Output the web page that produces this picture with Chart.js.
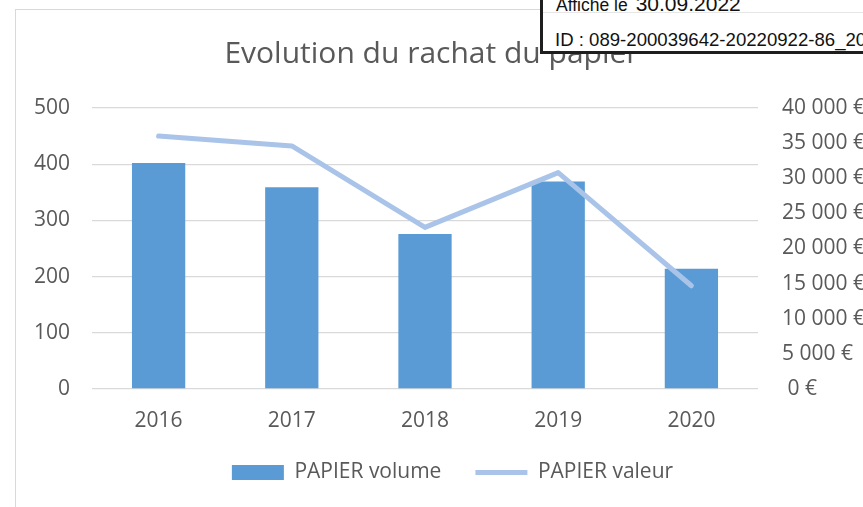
<!DOCTYPE html>
<html>
<head>
<meta charset="utf-8">
<script src="https://cdn.jsdelivr.net/npm/chart.js@4/dist/chart.umd.min.js"></script>
<style>
  html, body { margin: 0; padding: 0; background: #ffffff; overflow: hidden; }
  #wrap { position: relative; width: 863px; height: 507px; overflow: hidden; background: #fff; }
  #frame { position: absolute; left: 15px; top: 9px; width: 1000px; height: 700px; border: 1.5px solid #d9d9d9; box-sizing: border-box; }
  #c { position: absolute; left: 0; top: 0; }
  #stamp { position: absolute; left: 540px; top: -12px; width: 400px; height: 66px; box-sizing: border-box;
           border: 3px solid #1e1e1e; background: #fff; font-family: "Liberation Sans", Arial, sans-serif; color: #111; z-index: 2; }
  #stamp .line { position: absolute; left: 0; right: 0; top: 21px; height: 1px; background: #e6e6e6; }
  #stamp .a { position: absolute; left: 13px; top: 3px; font-size: 17.5px; line-height: 20px; white-space: nowrap; }
  #stamp .a b { font-weight: normal; font-size: 21px; margin-left: 8px; }
  #stamp .id { position: absolute; left: 12px; top: 38px; font-size: 18.6px; line-height: 22px; white-space: nowrap; }
</style>
</head>
<body>
<div id="wrap">
  <div id="frame"></div>
  <canvas id="c" width="863" height="507"></canvas>
  <div id="stamp">
    <div class="line"></div>
    <div class="a">Affiché le<b>30.09.2022</b></div>
    <div class="id">ID : 089-200039642-20220922-86_2022</div>
  </div>
</div>
<script>
const chartTitle = 'Evolution du rachat du papier';
const years = ['2016', '2017', '2018', '2019', '2020'];
const volumeLabel = 'PAPIER volume';
const valeurLabel = 'PAPIER valeur';
const volume = [402, 359, 276, 369, 214];
const valeur = [36000, 34600, 23000, 30800, 14700];
const volumeTicks = [0, 100, 200, 300, 400, 500];
const valeurTicks = [0, 5000, 10000, 15000, 20000, 25000, 30000, 35000, 40000];

const TXT = '#595959';
const FONT = 'Open Sans';

function euro(v) {
  const s = String(v).replace(/\B(?=(\d{3})+(?!\d))/g, ' ') + ' €';
  return v === 0 ? ' ' + s : s;
}

const shiftLegend = {
  id: 'shiftLegend',
  afterLayout(chart) {
    if (chart.legend) { chart.legend.left += 21; chart.legend.right += 21; }
  }
};

new Chart(document.getElementById('c'), {
  data: {
    labels: years,
    datasets: [
      {
        type: 'bar',
        label: volumeLabel,
        data: volume,
        yAxisID: 'y',
        backgroundColor: '#5B9BD5',
        borderWidth: 0,
        categoryPercentage: 1,
        barPercentage: 0.4,
        pointStyle: 'rect',
        order: 1
      },
      {
        type: 'line',
        label: valeurLabel,
        data: valeur,
        yAxisID: 'y1',
        borderColor: '#A9C4E8',
        backgroundColor: '#A9C4E8',
        borderWidth: 5,
        borderCapStyle: 'round',
        borderJoinStyle: 'round',
        pointRadius: 0,
        pointHoverRadius: 0,
        pointStyle: 'line',
        tension: 0,
        fill: false,
        order: 0
      }
    ]
  },
  options: {
    responsive: false,
    animation: false,
    devicePixelRatio: 1,
    layout: { padding: { left: 0, right: 0, top: 0, bottom: 14 } },
    plugins: {
      title: {
        display: true,
        text: chartTitle,
        color: TXT,
        font: { family: FONT, size: 30, weight: 'normal' },
        padding: { top: 36, bottom: 36 }
      },
      legend: {
        display: true,
        position: 'bottom',
        labels: {
          color: TXT,
          font: { family: FONT, size: 21 },
          usePointStyle: true,
          pointStyleWidth: 52,
          boxHeight: 15,
          padding: 34,
          sort: (a, b) => a.datasetIndex - b.datasetIndex
        }
      },
      tooltip: { enabled: false }
    },
    scales: {
      x: {
        grid: { display: false, drawTicks: false },
        border: { display: false },
        ticks: { color: TXT, font: { family: FONT, size: 21 }, padding: 19 },
        afterFit: s => { s.height = 39; }
      },
      y: {
        position: 'left',
        min: 0,
        max: 500,
        afterBuildTicks: s => { s.ticks = volumeTicks.map(v => ({ value: v })); },
        grid: { color: '#D9D9D9', lineWidth: 1.3, drawTicks: false },
        border: { display: false },
        ticks: { color: TXT, font: { family: FONT, size: 21 }, padding: 22 },
        afterFit: s => { s.width = 92; }
      },
      y1: {
        position: 'right',
        min: 0,
        max: 40000,
        afterBuildTicks: s => { s.ticks = valeurTicks.map(v => ({ value: v })); },
        grid: { drawOnChartArea: false, drawTicks: false },
        border: { display: false },
        ticks: { color: TXT, font: { family: FONT, size: 21 }, padding: 24, callback: v => euro(v) },
        afterFit: s => { s.width = 105; }
      }
    }
  },
  plugins: [shiftLegend]
});
</script>
</body>
</html>
